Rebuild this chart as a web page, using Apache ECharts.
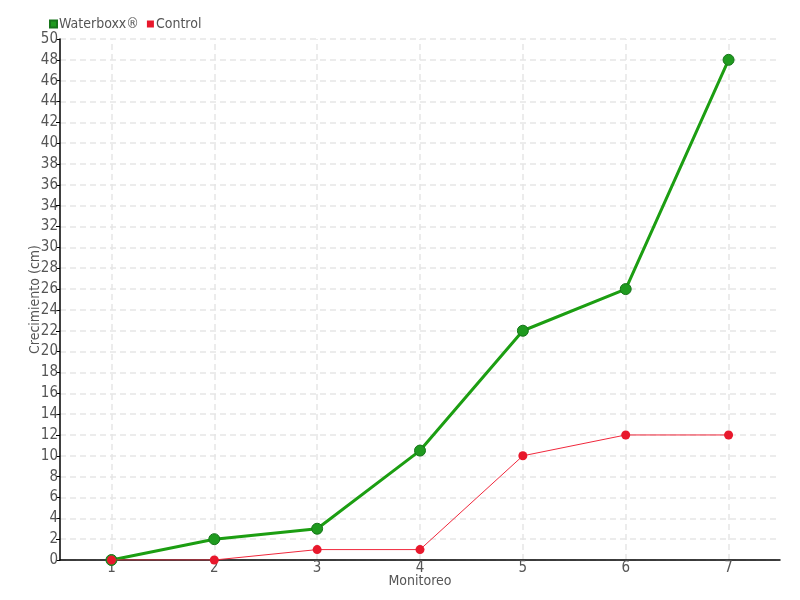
<!DOCTYPE html>
<html><head><meta charset="utf-8">
<script src="https://cdn.jsdelivr.net/npm/echarts@6/dist/echarts.min.js"></script>
<style>html,body{margin:0;padding:0;background:#fff}#c{width:800px;height:600px}</style>
</head><body><div id="c"></div>
<script>
var categories = ['1','2','3','4','5','6','7'];
var waterboxx = [0, 2, 3, 10.5, 22, 26, 48];
var control = [0, 0, 1, 1, 10, 12, 12];
var font = 'DejaVu Sans Condensed';
var gridStyle = {color: '#e6e6e6', type: [6,4], width: 1.5};
var chart = echarts.init(document.getElementById('c'));
chart.setOption({
  animation: false,
  textStyle: {fontFamily: font},
  legend: {
    left: 44, top: 12, itemWidth: 7, itemHeight: 7, itemGap: 8,
    icon: 'rect',
    textStyle: {fontFamily: font, fontSize: 14, color: '#555', padding: [0,0,0,-3]},
    data: [{name: 'Waterboxx®'}, {name: 'Control'}]
  },
  grid: {left: 60, right: 20, top: 39, bottom: 40},
  xAxis: {
    type: 'category', data: categories, boundaryGap: true,
    name: 'Monitoreo', nameLocation: 'middle', nameGap: 14, nameMoveOverlap: false,
    nameTextStyle: {fontFamily: font, fontSize: 14, color: '#555'},
    axisLine: {lineStyle: {color: '#000', width: 1.5}},
    axisTick: {alignWithLabel: true, length: 4, inside: true, lineStyle: {color: '#000'}},
    axisLabel: {fontFamily: font, fontSize: 15, color: '#555', margin: 1},
    splitLine: {show: false}
  },
  yAxis: {
    type: 'value', min: 0, max: 50, interval: 2,
    name: 'Crecimiento (cm)', nameLocation: 'middle', nameGap: 18, nameMoveOverlap: false,
    nameTextStyle: {fontFamily: font, fontSize: 14, color: '#555'},
    axisLine: {show: true, lineStyle: {color: '#000', width: 1.5}},
    axisTick: {show: true, length: 4, lineStyle: {color: '#000'}},
    axisLabel: {fontFamily: font, fontSize: 15, color: '#555', margin: 2},
    splitLine: {show: true, lineStyle: gridStyle}
  },
  series: [
    {
      name: 'grid', type: 'line', data: [], z: 0, silent: true,
      markLine: {
        z: 0, silent: true, symbol: 'none', label: {show: false},
        lineStyle: gridStyle, emphasis: {disabled: true},
        data: categories.map(function (c) { return {xAxis: c}; })
      }
    },
    {
      name: 'Waterboxx®', type: 'line', data: waterboxx,
      symbol: 'circle', symbolSize: 11,
      lineStyle: {color: '#1c9e12', width: 3},
      itemStyle: {color: '#1f9a1f', borderColor: '#16751a', borderWidth: 1},
      z: 2
    },
    {
      name: 'Control', type: 'line', data: control,
      symbol: 'circle', symbolSize: 9,
      lineStyle: {color: '#f0283c', width: 1},
      itemStyle: {color: '#e8182c', borderColor: '#e8182c', borderWidth: 0},
      z: 3
    }
  ]
});
</script></body></html>
